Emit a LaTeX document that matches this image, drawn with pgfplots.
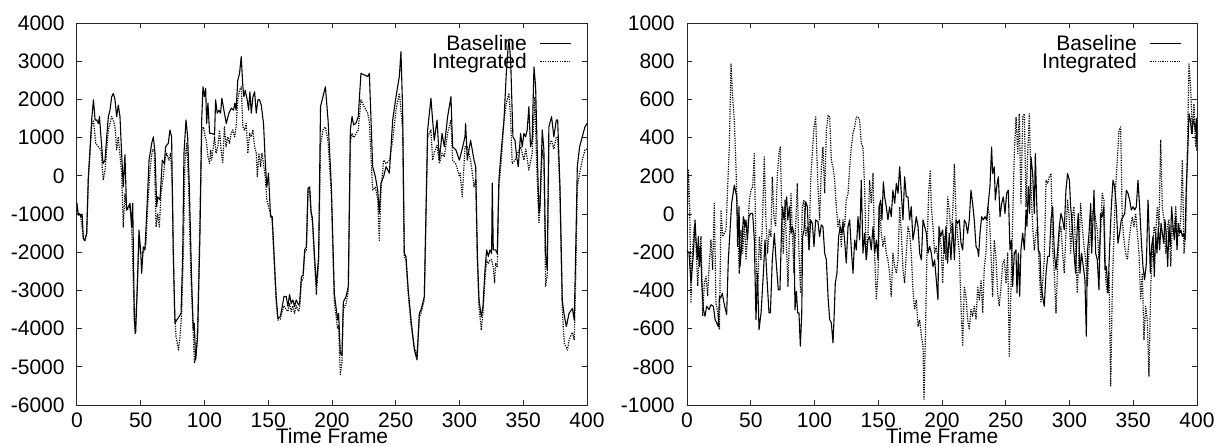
\documentclass[border=0pt]{standalone}
\usepackage{pgfplots}
\pgfplotsset{compat=1.18}
\usepackage{fontspec}
\setmainfont{Liberation Sans}

\pgfplotstableread{
t v
0 -720
1 -1030
2 -990
3 -1080
4 -1000
5 -1640
6 -1700
7.6 -1510
8.9 -20
10.2 680
11.5 1460
12.9 1990
14.2 1460
15.5 1460
16.8 1370
17.6 1550
18.8 1020
20.4 320
22 410
23.3 1020
24.6 1550
25.9 1720
27.2 2070
28.5 2160
29.8 1990
31.1 1550
32.4 1850
33.7 1550
35 590
36.3 -290
37.6 550
38.9 -900
40.3 -810
41.6 -720
42.9 -1340
43.7 -720
45 -3775
46 -4120
47.3 -2900
48.6 -1420
49.9 -1940
50.7 -2550
52 -1860
53.3 -1940
55.4 -460
56.5 410
58.6 850
59.9 1020
61.2 590
62.5 -810
63.3 -550
65.1 -630
66.9 410
68.5 320
69.5 760
71.6 850
72.9 1200
74.2 1020
75.5 -2030
76.9 -3860
78.2 -3775
80 -3690
81.6 -3600
82.9 -2030
83.9 590
85.5 1460
86.8 1020
88.1 -290
89.9 -2730
91.2 -4040
92 -3860
93 -4820
94.6 -4210
96.4 -1600
97.8 1460
98.8 2330
99.9 2070
100.9 2290
101.7 1370
102.7 1900
104 1110
106.1 1110
107.9 1070
108.7 1990
110 1640
111.3 1720
112.6 1640
113.6 2030
115.2 1720
117.1 1370
119.1 1640
121 1770
122.8 1720
123.8 1900
124.8 1720
126.1 2500
127.5 2680
128.8 3120
130.1 2330
130.9 2070
131.9 2240
133.5 1990
134.6 1720
135.6 2200
136.7 1640
138 2070
139.3 2200
140.6 1640
141.9 1990
143.2 1990
144.5 1850
146.3 1370
147.6 410
148.9 -290
150.2 70
151.8 -1070
153.1 -1070
154.9 -2290
156.2 -3160
157.6 -3730
159.4 -3690
161 -3420
162.3 -3160
164.1 -3160
165.4 -3420
166.7 -3110
168 -3340
169.3 -3250
170.6 -3420
171.9 -3250
173.8 -3380
174.6 -3340
176 -2640
177.3 -2600
178.6 -1940
179.9 -1860
181.2 -330
182.5 -290
183.6 -940
184.6 -1100
187.7 -2900
189.5 -2100
191 1810
192.9 2070
194.8 2330
196.9 1460
199.5 -290
201.8 -3076
204.4 -3775
205.2 -3600
206.5 -4650
207.8 -4700
208.9 -3300
211 -3160
212.8 -2900
214.4 1200
215.7 1550
217 1330
218.8 1380
220.6 1550
222.7 2680
225.4 2640
228 2600
229.3 2680
231.9 240
234 -20
235.8 -370
237.1 -980
238.4 -190
240.5 -20
242.4 240
245 70
247.6 1460
250.2 2070
252.8 2600
254.1 3250
255.4 1720
256.7 -2030
258 -2110
259.8 -2990
262 -3775
264.6 -4560
266.7 -4820
268.5 -3600
269.8 -3510
272.4 -3160
275 1200
277.6 2030
278.9 1460
280.2 930
282.4 1460
284.2 410
286.3 1110
288.1 760
290.7 1550
293.3 2070
294.6 760
297.3 670
299.9 410
302.5 760
304.3 1020
304.8 1370
306.1 410
308.7 930
311.4 410
312.7 240
314 -2030
315.3 -3250
317.1 -3690
318.4 -3420
320 -2460
321.3 -1940
322.6 -2110
323.9 -1940
325.2 -2030
325.7 -190
326.5 -1940
328.3 -1940
329.6 -2030
330.9 -110
333 760
334.9 1460
336.7 2680
338 3300
338.8 3560
340.1 3040
341.9 1020
343.5 930
344.8 500
346.1 240
347.9 1110
349.2 760
350.5 1110
351.8 1020
353.1 1200
354.4 1810
355.7 760
357 930
358.4 2850
359.7 2330
361 590
362.3 -980
363.1 -800
364.9 1200
366.2 670
367.5 -2030
368.8 -2460
370.1 1280
372.2 1550
374 1020
375.9 1460
377 1460
378.8 -290
380.6 -3250
381.9 -3600
383.8 -3950
385.9 -3600
388.5 -3470
390 -3775
391.1 -2030
392.4 240
394.2 760
396.3 1020
398.4 1280
400 1370
}\leftbase

\pgfplotstableread{
t v
0 -720
1 -1030
2 -990
3 -1080
5 -1640
6.3 -1690
7.6 -1510
8.9 -100
10.2 600
11.5 1300
12.9 1460
14.7 850
16.8 760
18.8 680
20.6 -110
22 150
24.6 1200
27.2 1550
28.5 1460
29.8 1280
31.1 680
32.4 1020
35 70
36.3 -1340
37.6 -460
38.9 -900
41.6 -810
42.9 -1340
45 -3775
45.5 -4120
47 -3160
48.6 -1690
49.9 -2030
52 -2030
54.1 -1770
55.4 -810
57.3 150
59.1 680
60.6 680
62 -1340
63.3 -990
64.6 -1340
65.9 -460
67.7 -20
69 410
70.3 590
72.1 410
73.4 590
74.7 -290
76.4 -3510
77.7 -4210
79.6 -4560
80.8 -4210
82.1 -3600
83.4 -2030
84.7 410
86.1 850
87.4 -110
89.2 -2460
90.8 -3775
92.1 -4900
93.4 -4730
94.6 -3950
96.4 -1160
97.8 1200
99.2 1280
100.5 1020
101.4 930
102.7 500
104 320
104.8 680
105.6 410
107.9 1020
109 590
110.5 760
111.8 1200
113 680
114.3 320
115.6 1280
116.9 760
118.2 1020
119.6 850
120.9 1110
122.2 1200
123.6 1020
124.8 1280
126.1 1990
127.5 2240
128.8 2330
130.1 1280
131.4 1200
132.7 1370
134 590
135.4 1110
136.7 1020
138 1200
139.3 760
140.6 590
141.4 -20
142.7 590
144 240
145 590
146.3 320
147.6 -20
148.9 -630
150.2 -810
151.8 -990
153.1 -1200
154.9 -2400
156.2 -3300
157.6 -3780
159.4 -3750
161 -3550
162.3 -3400
164.1 -3500
165.4 -3550
166.7 -3350
168 -3550
169.3 -3400
170.6 -3600
171.9 -3400
173.8 -3550
174.6 -3450
176 -2750
177.3 -2700
178.6 -2000
179.9 -1950
181.2 -400
182.5 -400
183.6 -1000
184.6 -1200
187.7 -3100
189.5 -2300
191 800
192.9 1200
194.8 1280
196.9 900
199.5 -500
201.8 -3300
204.4 -4000
205.2 -3900
206.5 -5200
207.8 -4900
208.9 -3500
211 -3350
212.8 -3000
214.4 900
215.7 1100
217 1000
218.8 1100
220.6 1200
222.7 1990
225.4 1800
228 1640
229.3 1400
231.9 -370
234 -300
235.8 -600
237.1 -1690
238.4 -400
240.5 410
242.4 320
245 400
247.6 930
250.2 1720
252.8 2160
254.1 1720
255.4 1200
256.7 -2100
258 -2200
259.8 -3100
262 -3900
264.6 -4500
266.7 -4700
268.5 -3700
269.8 -3600
272.4 -3250
275 1020
277.6 1200
278.9 410
280.2 600
282.4 800
284.2 320
286.3 590
288.1 500
290.7 1110
293.3 1460
294.6 410
297.3 300
299.9 -20
300.5 70
302.2 -550
304.3 760
306.1 760
308.7 410
311.4 -290
312.7 -100
314 -2200
315.3 -3450
317.1 -4040
318.4 -3600
320 -2700
321.3 -2200
322.6 -2300
323.9 -2200
325.2 -2200
326.5 -2400
327.5 -2800
328.3 -2300
329.6 -2400
330.9 -290
333 500
334.9 1460
336.7 1900
338.8 2160
340.1 1500
341.3 320
343.5 410
345.5 590
348 760
350.5 410
352 700
354.4 150
357 590
359.1 2070
360.4 410
362.3 -1250
363.1 -900
364.9 680
366.2 400
367.5 -2900
368.8 -2600
370.1 760
372.2 930
374 700
375.9 1020
377 1000
378.8 -460
380.6 -3500
382.2 -4380
384.6 -4560
386 -4290
388.5 -4100
390 -4290
391.1 -2730
392.4 -290
393.7 -20
396.3 410
398.4 680
400 700
}\leftint

\pgfplotstableread{
t v
0 -190
1.6 -205
3.1 -362
5 -205
6.3 -31
7.1 -136
8.1 -240
8.9 -118
9.7 -275
10.7 -170
11.5 -344
12.8 -500
14.1 -535
15.4 -483
17.3 -500
18.8 -475
20.7 -483
22 -553
23.3 -570
24.6 -590
25.4 -431
26.4 -440
27.7 -414
29 -466
31.1 -527
32.4 -240
35 56
37.1 151
39 90
39.7 -170
40.8 38
41.6 -275
42.9 -170
44.2 -14
45.5 -66
46.3 -31
47.3 -136
48.6 -14
49.9 3
51.5 3
52.8 -136
54.1 -553
55.2 -310
56.5 -605
58.1 -518
59.9 -310
61.2 -136
62.5 -310
64.3 -518
65.4 -518
66.9 -240
68.5 -101
69.8 -240
71.6 -397
72.9 -397
74.2 -66
75 38
76.1 -31
76.9 21
78.2 90
79 -31
80.3 38
81.6 -101
82.6 -66
83.9 -101
84.7 -500
85.8 -405
86.8 -518
87.8 -518
88.9 -692
90 -518
90.7 -118
91.8 -83
93.1 64
94.4 38
95.7 -188
97 -31
98.3 -49
99.6 -170
100.9 -31
102.7 -40
104 -118
105.3 -57
106.6 -66
108 -205
109.3 -240
110.6 -431
111.9 -553
113.2 -570
114.5 -675
115.3 -553
116.3 -362
117.6 -310
118.9 -118
120.2 -66
121.5 -101
122.3 -49
123.6 -136
124.9 -257
126.3 -66
127.6 -31
128.9 -188
130.2 -310
131.5 -136
132.8 -188
134.1 -14
135.4 -136
136.7 177
138 -205
139.3 -101
140.6 -240
141.9 -136
143.2 -118
144.5 -188
145.9 -66
147.2 -205
148.5 -136
149.8 -240
150.6 38
151.9 73
152.9 -31
154 169
155 90
156.3 38
157.6 -31
158.9 38
160.2 -14
161.5 125
162.9 56
164.2 160
165.5 108
166.8 247
168.1 108
169.4 -31
170.7 195
172 90
173.3 90
174.6 -31
175.9 38
177.2 -136
178.5 -83
179.8 -14
181.2 -66
182.5 -205
183.8 -240
185.1 -31
186.4 -66
187.7 -101
189 -205
190.3 -170
191.6 -205
192.9 -275
194.2 -240
195.5 -344
196.8 -449
197.6 -66
198.9 -118
200.5 -83
201.8 -205
203.1 -66
204.4 -257
205.7 -101
207 -240
208.4 -49
209.7 -240
211 -31
212.3 -49
213.6 -31
214.9 -153
216.2 -188
217.5 -31
218.8 -49
220.1 -101
221.4 -31
222.7 125
224 56
225.3 -31
226.7 -170
228 -188
228.7 -222
229.8 -101
231.1 -14
232.4 -31
233.7 -14
235 -31
236.3 56
237.6 143
238.9 351
239.7 212
241 247
241.8 73
242.9 143
244.2 195
245.5 -14
246.8 56
248.1 90
249.4 3
250.7 108
252 125
253.3 -188
254.6 -136
255.4 -379
256.7 -205
258 -188
258.8 -414
259.9 -205
260.9 -431
261.9 -188
263.3 -101
264.6 -188
265.9 21
266.6 -66
267.7 143
268.7 3
269.8 299
271.1 212
272.4 3
273.2 316
274.2 73
275.5 -188
276.8 -205
277.6 -362
278.9 -431
280.2 -483
281.6 -310
282.9 -222
284.2 -222
285.5 -31
286.8 38
288.1 -205
289.4 -292
290.7 -188
292 -66
293.3 3
294.6 -31
295.9 -83
297.2 125
298.5 212
299.9 177
300.9 38
302.2 -66
303.5 -205
304.8 -310
306.1 -66
306.9 3
308.2 -310
309.5 -205
310.8 -275
312.1 -344
313.2 -640
314 -205
315.3 -101
316.6 56
317.4 -205
318.4 -31
319.2 125
320.5 -205
321.8 -240
323.1 -397
324.4 3
325.7 -14
326.8 38
327.8 -292
328.9 -275
330.2 -414
331.5 -170
332.8 38
334.1 177
335.4 143
336.7 38
338 -153
339.3 -101
340.6 -31
342 -14
343.3 3
344.6 125
345.9 108
347.2 73
348.5 21
349.8 38
351.1 21
352.4 38
353.7 177
355 38
356.3 -136
357.6 -275
358.9 -344
360.3 -257
361.6 73
362.3 -66
363.4 -310
364.4 -170
365.5 -118
366.5 -327
367.6 -101
368.6 -205
369.7 -66
370.7 -188
371.8 -49
372.8 -101
373.9 -153
374.9 -31
375.9 -118
377 -275
378 -66
379.1 -170
380.1 38
381.2 -66
382.2 -136
383.3 -14
384.3 -188
385.4 -49
386.4 -101
387.4 -83
388.5 -118
389.5 -101
390.6 -136
391.6 143
392.7 316
393.7 525
394.8 490
395.8 421
396.9 490
397.9 473
398.9 430
399.4 500
400 330
}\rightbase

\pgfplotstableread{
t v
0 -101
1.1 230
2.1 38
3.1 -466
4.2 -205
5.7 -66
7.1 -170
8.4 -379
9.7 -205
11 -118
12.3 -535
13.6 -362
14.9 -327
16.2 -431
17.5 -257
18.8 -136
20.1 -292
21.4 56
22.7 -466
24.1 -518
25.4 -605
26.7 21
28 -118
29.3 -101
30.6 -83
31.9 143
33.2 351
34.5 786
35.8 612
37.1 490
38.4 247
39.7 -66
41 -310
42.3 -83
43.7 -205
45 -31
46.3 -240
47.6 -101
48.9 73
50.2 125
51.5 143
52.8 316
54.1 -205
55.4 -431
56.7 -118
58 -240
59.3 -14
60.6 299
61.9 -31
63.2 -205
64.5 -83
65.8 -118
66.9 195
68.2 -14
69.5 -66
70.8 195
72.1 316
73.2 351
74.2 38
75.5 -205
76.9 73
78.2 -205
79.2 -379
80.3 -118
81.6 108
82.6 -101
83.9 -310
85.2 -66
86.5 160
87.8 -205
89.1 -414
90.4 38
91.8 73
93.1 -118
94.4 -66
95.7 -188
97 177
98.3 316
99.6 456
100.9 508
102.7 143
104 -31
105.3 230
106.6 351
108 108
109.3 438
110.6 516
111.9 508
113.2 282
114.5 247
115.8 177
117.1 38
118.4 -66
119.7 -31
121 -170
122.3 -31
123.6 -66
124.9 73
126.3 108
127.6 247
128.9 351
130.2 421
131.5 456
132.8 508
134.1 508
135.4 490
136.7 369
138 351
139.3 143
140.6 -240
141.9 -118
143.2 177
144.5 56
145.9 212
147.2 -222
148.5 -449
149.8 -310
151.1 38
152.4 -101
153.7 -170
155 -118
156.3 -205
157.6 -240
158.9 -310
160.2 -431
161.5 -205
162.9 -275
164.2 -310
165.5 -240
166.8 38
168.1 -101
169.4 -292
170.7 -362
172 -205
173.3 -66
174.6 -101
175.9 -205
177.2 -397
178.5 -500
179.8 -449
181.2 -588
182.5 -553
183.8 -640
185.1 -692
185.9 -970
186.9 -657
188.2 -205
189.5 108
190.8 230
191.6 38
192.9 -66
194.2 -205
195.5 -170
196.8 -240
198.2 -101
199.5 -188
200.5 -362
201.8 -118
203.1 -240
204.4 90
205.7 21
207 -101
208.4 3
209.7 264
211 -14
212.3 -118
213.6 -205
214.9 -483
216.2 -692
217.5 -379
218.8 -431
220.1 -553
221.4 -605
222.7 -500
224 -535
225.3 -483
226.7 -553
228 -379
229.3 -449
230.6 -344
231.9 -518
233.2 -275
234.5 -205
235.8 38
237.1 3
238.4 -205
239.7 -431
241 -136
242.3 -222
243.6 -414
244.9 -483
246.3 -379
247.6 -257
248.9 -240
250.2 -362
251.5 -205
252.8 -744
254.1 -379
255.4 -31
256.7 316
258.1 508
259.4 316
260.6 525
261.9 56
263.3 508
264.6 525
265.9 38
267.2 316
268.5 525
269.8 143
271.1 -66
272.4 -188
273.7 -101
275 -66
276.3 -292
277.6 -466
278.9 -362
280.2 -240
281.6 177
282.9 160
284.2 195
285.5 212
286.8 -188
288.1 -310
289.4 -518
290.7 -275
292 -101
293.3 -66
294.6 -205
295.9 -310
297.2 -101
298.5 73
299.9 -31
300.9 -205
302.2 -14
303.5 38
304.8 -205
306.1 -414
307.4 -205
308.7 56
310 -66
311.4 -170
312.7 -240
314 -379
315.3 -188
316.6 -101
317.9 3
319.2 38
320.5 -31
321.8 -83
323.1 -240
324.4 -101
325.7 108
327 73
328.4 -344
329.7 -414
331 -310
332.3 -900
333.6 -379
334.9 -101
336.2 143
337.5 282
338.8 438
340.1 456
341.4 -31
342.7 -136
344 -205
345.4 -240
346.7 -136
348 -66
349.3 -14
350.6 -66
351.9 3
353.2 -101
354.5 -205
355.8 -449
357.1 -310
358.4 -657
359.7 -483
361 -553
362.3 -849
363.7 -379
365 -205
366.3 -66
367.6 -101
368.9 38
370.2 -66
371.5 386
372.8 38
374.1 -31
375.4 -205
376.7 -66
378 -31
379.4 -275
380.6 -66
382 -101
383.3 38
384.6 -101
385.9 -118
387.2 -31
388.5 282
389.8 -205
391.1 -101
392.4 316
393.7 786
395 664
396.3 421
397.6 577
398.9 351
400 490
}\rightint

\pgfplotsset{
  gp/.style={
    scale only axis, width=255pt, height=191pt,
    anchor=south west,
    xmin=0, xmax=400,
    xtick={0,50,...,400},
    tick align=inside,
    major tick length=2.5pt,
    axis line style={line width=0.5pt, black!85},
    every tick/.style={line width=0.5pt, black!85},
    tick label style={font=\fontsize{10.5}{12}\selectfont},
    /pgf/number format/assume math mode=true,
    /pgf/number format/1000 sep={},
    yticklabel style={inner sep=0pt, xshift=-6pt},
    xticklabel style={inner sep=0pt, yshift=-3.5pt},
    xlabel={Time Frame},
    xlabel style={at={(axis description cs:0.5,0)}, anchor=north, inner sep=0pt, yshift=-11.5pt, font=\fontsize{10.5}{12}\selectfont},
    legend plot pos=right,
    legend cell align=right,
    legend image code/.code={\draw[#1] (0pt,0pt) -- (15.5pt,0pt);},
    legend style={at={(0.9706,0.966)}, anchor=north east, draw=none, fill=none,
      inner sep=0pt, outer sep=0pt,
      font=\fontsize{10.5}{12}\selectfont,
      nodes={inner sep=0pt, text height=7.4pt, text depth=0pt},
      /tikz/column sep=6.5pt, /tikz/row sep=1.5pt},
  },
  base/.style={black, line width=0.55pt, line join=round},
  integ/.style={black, line width=0.6pt, line join=round, dash pattern=on 0.6pt off 0.6pt},
}

\begin{document}
\begin{tikzpicture}
\path[use as bounding box] (0,0) rectangle (607.5pt,223pt);
\begin{axis}[gp, at={(38.5pt,20.5pt)},
  ymin=-6000, ymax=4000, ytick={-6000,-5000,...,4000}]
\addplot[base] table[x=t,y=v] {\leftbase};
\addlegendentry{Baseline}
\addplot[integ] table[x=t,y=v] {\leftint};
\addlegendentry{Integrated}
\end{axis}
\begin{axis}[gp, at={(343.5pt,20.5pt)},
  ymin=-1000, ymax=1000, ytick={-1000,-800,...,1000}]
\addplot[base] table[x=t,y=v] {\rightbase};
\addlegendentry{Baseline}
\addplot[integ] table[x=t,y=v] {\rightint};
\addlegendentry{Integrated}
\end{axis}
\end{tikzpicture}
\end{document}
